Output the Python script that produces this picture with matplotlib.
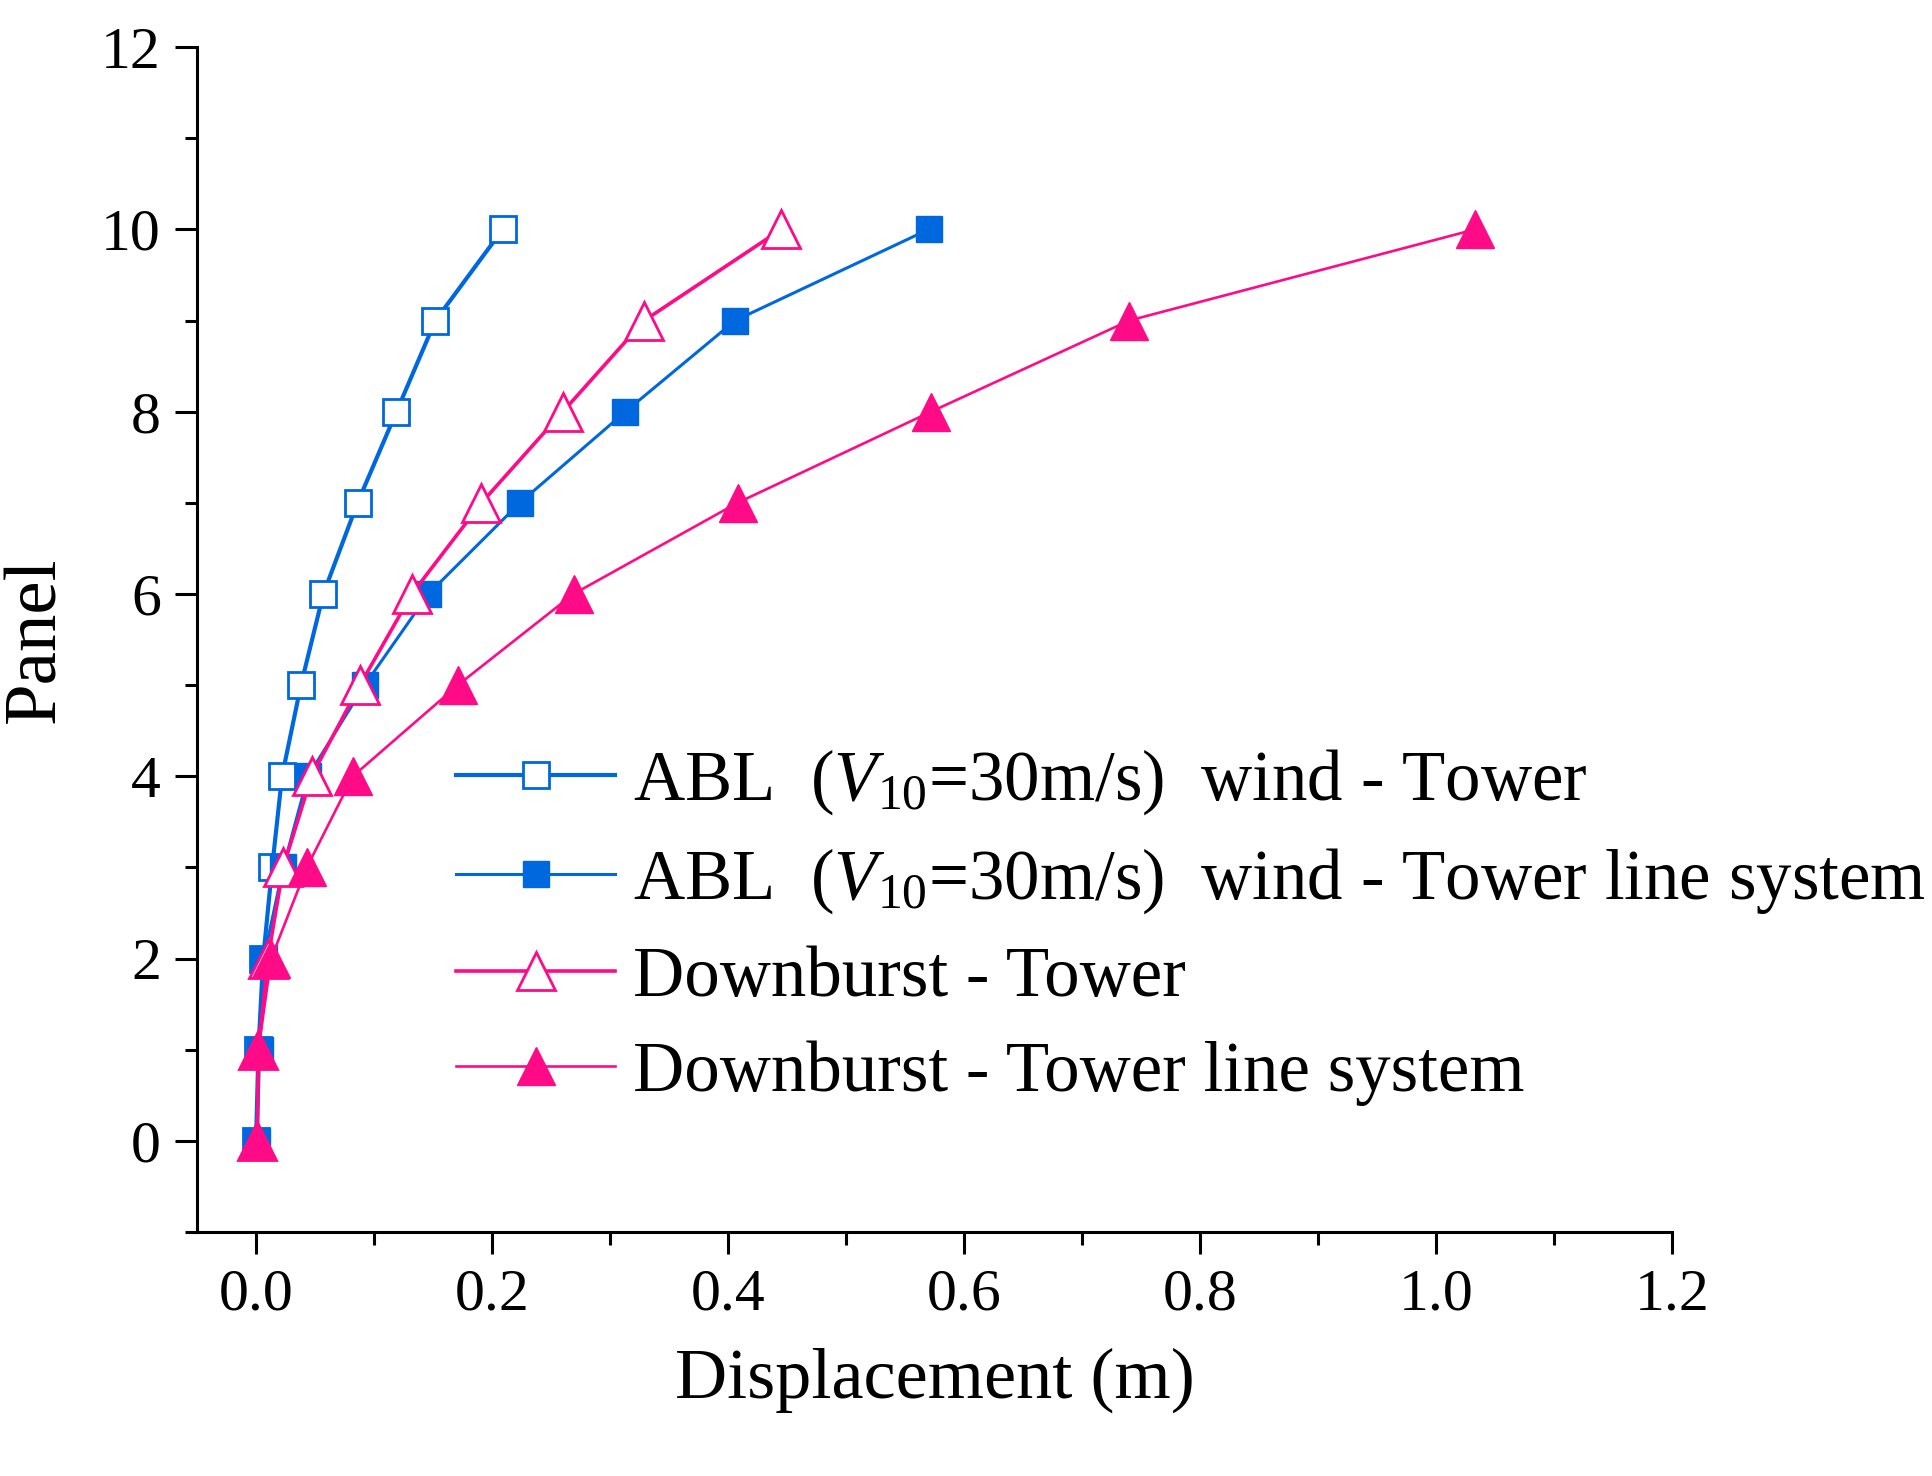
import numpy as np
import matplotlib
matplotlib.use("Agg")
import matplotlib.pyplot as plt
from matplotlib.ticker import MultipleLocator, FormatStrFormatter

plt.rcParams['font.family'] = ['Liberation Serif', 'DejaVu Serif']
plt.rcParams['mathtext.fontset'] = 'custom'
plt.rcParams['mathtext.rm'] = 'Liberation Serif'
plt.rcParams['mathtext.it'] = 'Liberation Serif:italic'

# ---------- data ----------
panels = [0, 1, 2, 3, 4, 5, 6, 7, 8, 9, 10]

abl_tower = [0.000, 0.002, 0.006, 0.0136, 0.022, 0.038, 0.057, 0.086, 0.119, 0.152, 0.209]
abl_tower_line = [0.001, 0.003, 0.0065, 0.023, 0.044, 0.092, 0.146, 0.2235, 0.313, 0.406, 0.570]
db_tower = [0.001, 0.002, 0.010, 0.023, 0.047, 0.088, 0.132, 0.191, 0.260, 0.329, 0.445]
db_tower_line = [0.001, 0.002, 0.0128, 0.043, 0.082, 0.171, 0.269, 0.408, 0.572, 0.740, 1.033]

labels = [r"ABL  ($V_{10}$=30m/s)  wind - Tower",
          r"ABL  ($V_{10}$=30m/s)  wind - Tower line system",
          "Downburst - Tower",
          "Downburst - Tower line system"]

blue = "#0068DF"
pink = "#FF0A87"

# ---------- figure ----------
fig = plt.figure(figsize=(19.32, 14.76), dpi=100)
ax = fig.add_axes([0.102, 0.1653, 0.7635, 0.8028])

ax.plot(abl_tower, panels, color=blue, lw=3.0, marker='s', ms=19,
        mfc='white', mec=blue, mew=2.0, label=labels[0])
ax.plot(abl_tower_line, panels, color=blue, lw=2.2, marker='s', ms=19,
        mfc=blue, mec=blue, mew=1.0, label=labels[1])
ax.plot(db_tower, panels, color=pink, lw=2.6, marker='^', ms=27,
        mfc='white', mec=pink, mew=2.0, label=labels[2])
ax.plot(db_tower_line, panels, color=pink, lw=1.9, marker='^', ms=27,
        mfc=pink, mec=pink, mew=1.0, label=labels[3])

# --- axes ---
ax.set_xlim(-0.05, 1.2)
ax.set_ylim(-1, 12)
ax.xaxis.set_major_locator(MultipleLocator(0.2))
ax.xaxis.set_minor_locator(MultipleLocator(0.1))
ax.xaxis.set_major_formatter(FormatStrFormatter('%.1f'))
ax.yaxis.set_major_locator(MultipleLocator(2))
ax.yaxis.set_minor_locator(MultipleLocator(1))

for side in ['top', 'right']:
    ax.spines[side].set_visible(False)
for side in ['left', 'bottom']:
    ax.spines[side].set_linewidth(2.2)

ax.tick_params(which='major', direction='out', length=16, width=2.2,
               labelsize=43, pad=10)
ax.tick_params(which='minor', direction='out', length=9, width=2.2)

ax.set_xlabel('Displacement (m)', fontsize=52, labelpad=18)
ax.set_ylabel('Panel', fontsize=54, labelpad=22)

ax.legend(loc='upper left', bbox_to_anchor=(456 / 1932, 1 - 747 / 1476),
          bbox_transform=fig.transFigure, frameon=False, fontsize=51,
          handlelength=2.25, handletextpad=0.25, labelspacing=0.42,
          borderpad=0, borderaxespad=0)

fig.savefig('out.png', dpi=100, facecolor='white')
